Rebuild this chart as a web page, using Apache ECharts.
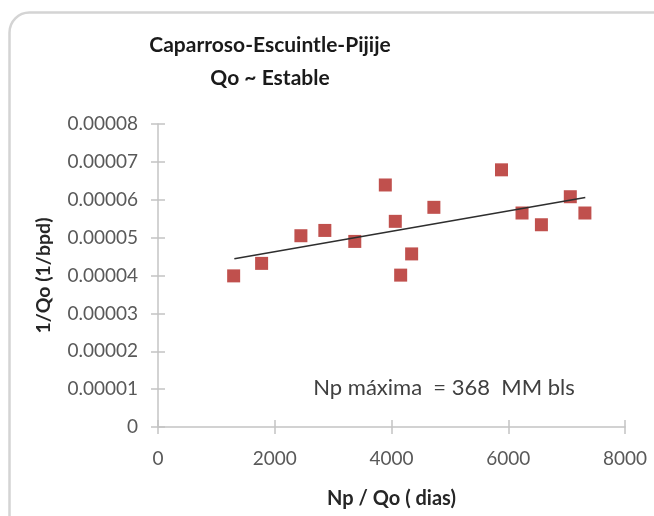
<!DOCTYPE html>
<html><head><meta charset="utf-8">
<script src="https://cdn.jsdelivr.net/npm/echarts@6/dist/echarts.min.js"></script>
<style>html,body{margin:0;padding:0;background:#fff}#c{width:654px;height:516px}</style>
</head><body><div id="c"></div>
<script>
// Data
const npQo  = [1296, 1775, 2448, 2858, 3371, 3894, 4065, 4157, 4345, 4726, 5884, 6236, 6568, 7063, 7313];
const invQo = [0.0000399, 0.0000432, 0.0000505, 0.0000519, 0.0000490, 0.0000639, 0.0000543, 0.0000401,
               0.0000457, 0.0000580, 0.0000679, 0.0000565, 0.0000534, 0.0000608, 0.0000565];
const trendX = [1308, 7320];
const trendY = [0.0000444, 0.0000606];
const xTicks = [0, 2000, 4000, 6000, 8000];
const yTicks = [0, 0.00001, 0.00002, 0.00003, 0.00004, 0.00005, 0.00006, 0.00007, 0.00008];
const titleLines = ['Caparroso-Escuintle-Pijije', 'Qo ~ Estable'];
const annotation = 'Np máxima  = 368  MM bls';
const xName = 'Np / Qo ( dias)';
const yName = '1/Qo (1/bpd)';

const FONT = "Lato, 'Open Sans', sans-serif";
const axisGray = '#c4c4c4';
const labelGray = '#595959';

const chart = echarts.init(document.getElementById('c'));
const xMin = xTicks[0], xMax = xTicks[xTicks.length - 1];
const yMin = yTicks[0], yMax = yTicks[yTicks.length - 1];
const xInt = xTicks[1] - xTicks[0];
const yInt = yTicks[1] - yTicks[0];

function baseX(inside, show) {
  return {
    type: 'value', min: xMin, max: xMax, interval: xInt, position: 'bottom',
    axisLine: { show: show, lineStyle: { color: axisGray, width: 1.5 } },
    axisTick: { show: true, inside: inside, length: 7, lineStyle: { color: axisGray, width: 1.5 } },
    axisLabel: { show: show, color: labelGray, fontFamily: FONT, fontSize: 19, margin: 22,
      formatter: v => String(v) },
    splitLine: { show: false }
  };
}
function baseY(inside, show) {
  return {
    type: 'value', min: yMin, max: yMax, interval: yInt, position: 'left',
    axisLine: { show: show, lineStyle: { color: axisGray, width: 1.5 } },
    axisTick: { show: true, inside: inside, length: 7, lineStyle: { color: axisGray, width: 1.5 } },
    axisLabel: { show: show, color: labelGray, fontFamily: FONT, fontSize: 19, margin: 20,
      formatter: v => (Math.abs(v) < 1e-12 ? '0' : v.toFixed(5)) },
    splitLine: { show: false }
  };
}

const xa0 = baseX(false, true);
xa0.name = xName;
xa0.nameLocation = 'middle';
xa0.nameGap = 62;
xa0.nameTextStyle = { color: '#262626', fontFamily: FONT, fontSize: 20, fontWeight: 'bold' };
const ya0 = baseY(false, true);
ya0.name = yName;
ya0.nameLocation = 'middle';
ya0.nameGap = 104;
ya0.nameTextStyle = { color: '#262626', fontFamily: FONT, fontSize: 19.5, fontWeight: 'bold' };

chart.setOption({
  animation: false,
  backgroundColor: '#ffffff',
  grid: { left: 158, top: 124, width: 467, height: 303, containLabel: false },
  xAxis: [xa0, baseX(true, false)],
  yAxis: [ya0, baseY(true, false)],
  graphic: [
    { type: 'rect', left: 7, top: 10, shape: { width: 700, height: 620, r: 20 }, z: -10,
      style: { fill: 'none', stroke: '#d4d4d4', lineWidth: 2.5 } },
    { type: 'text', x: 270, y: 45, z: 10,
      style: { text: titleLines[0], fill: '#1a1a1a', font: "bold 21px " + FONT,
               textAlign: 'center', textVerticalAlign: 'middle' } },
    { type: 'text', x: 270, y: 78, z: 10,
      style: { text: titleLines[1], fill: '#1a1a1a', font: "bold 21px " + FONT,
               textAlign: 'center', textVerticalAlign: 'middle' } },
    { type: 'text', x: 444, y: 388, z: 10,
      style: { text: annotation, fill: '#404040', font: "22px " + FONT,
               textAlign: 'center', textVerticalAlign: 'middle' } }
  ],
  series: [
    {
      type: 'scatter', xAxisIndex: 0, yAxisIndex: 0,
      data: npQo.map((x, i) => [x, invQo[i]]),
      symbol: 'rect', symbolSize: 13,
      itemStyle: { color: '#c0504d', opacity: 1 },
      z: 3
    },
    {
      type: 'line', xAxisIndex: 0, yAxisIndex: 0,
      data: trendX.map((x, i) => [x, trendY[i]]),
      showSymbol: false, symbol: 'none',
      lineStyle: { color: '#2e2e2e', width: 1.6 },
      z: 4
    }
  ]
});
</script>
</body></html>
